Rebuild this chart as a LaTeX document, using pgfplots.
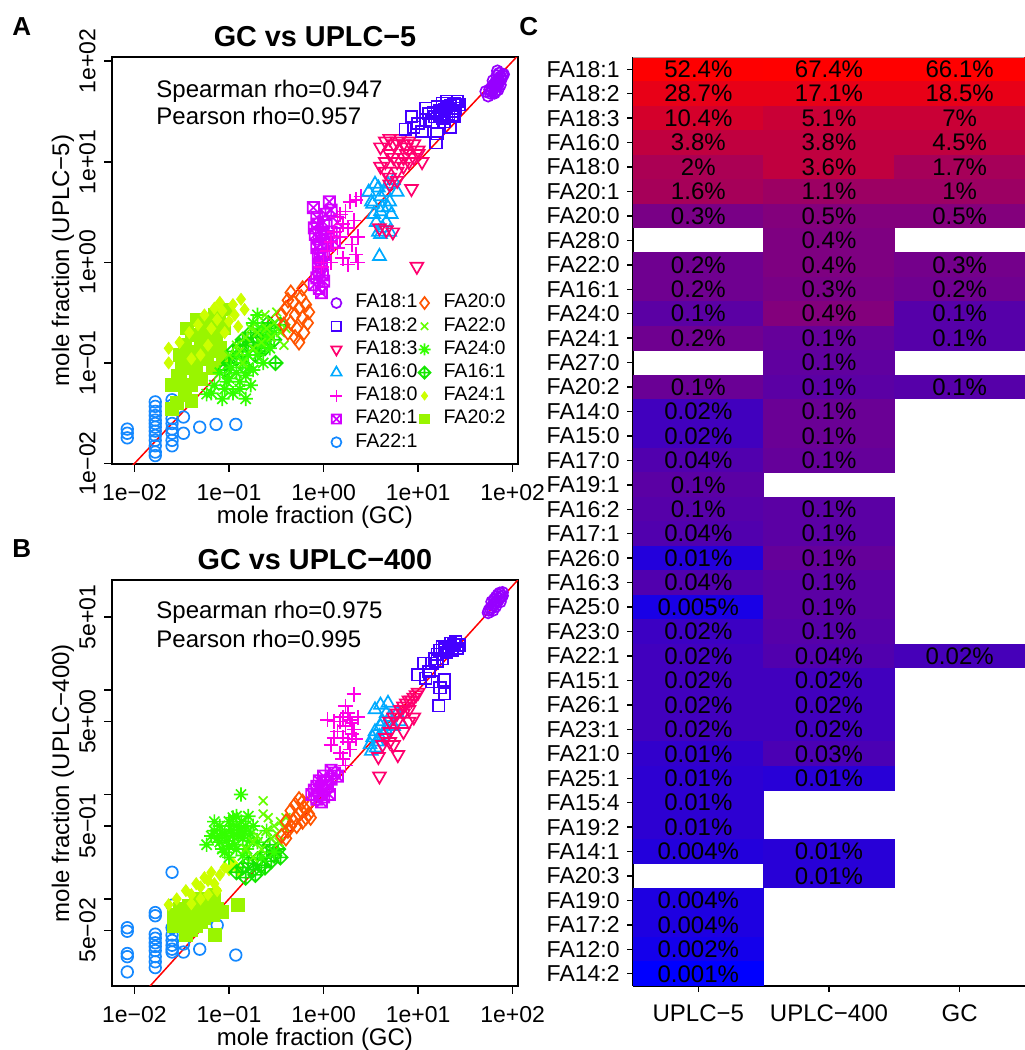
\documentclass[border=0pt]{standalone}
\usepackage{pgfplots}
\pgfplotsset{compat=1.18}
\usepackage{pgfplotstable}
\usepackage{fontspec}
\setmainfont{Liberation Sans}
\usetikzlibrary{plotmarks}

\definecolor{c181}{RGB}{150,0,255}
\definecolor{c182}{RGB}{68,0,255}
\definecolor{c183}{RGB}{255,0,110}
\definecolor{c160}{RGB}{0,170,255}
\definecolor{c180}{RGB}{255,0,230}
\definecolor{c201}{RGB}{210,0,255}
\definecolor{c221}{RGB}{20,136,255}
\definecolor{c200}{RGB}{255,85,0}
\definecolor{c220}{RGB}{102,255,0}
\definecolor{c240}{RGB}{51,255,0}
\definecolor{c161}{RGB}{20,230,0}
\definecolor{c241}{RGB}{204,255,0}
\definecolor{c202}{RGB}{153,245,0}

\newcommand{\ftick}{\fontsize{11.5}{13.8}\selectfont}
\newcommand{\flab}{\fontsize{12}{14.4}\selectfont}
\newcommand{\ftitle}{\fontsize{14.4}{17}\selectfont\bfseries}
\newcommand{\fleg}{\fontsize{9.8}{11.5}\selectfont}
\newcommand{\fcell}{\fontsize{12}{14.4}\selectfont}
\newcommand{\fpanel}{\fontsize{13}{15}\selectfont\bfseries}

% R pch 7, 8, 9
\pgfdeclareplotmark{sqx}{%
  \pgfpathrectangle{\pgfqpoint{-\pgfplotmarksize}{-\pgfplotmarksize}}{\pgfqpoint{2\pgfplotmarksize}{2\pgfplotmarksize}}%
  \pgfpathmoveto{\pgfqpoint{-\pgfplotmarksize}{-\pgfplotmarksize}}\pgfpathlineto{\pgfqpoint{\pgfplotmarksize}{\pgfplotmarksize}}%
  \pgfpathmoveto{\pgfqpoint{-\pgfplotmarksize}{\pgfplotmarksize}}\pgfpathlineto{\pgfqpoint{\pgfplotmarksize}{-\pgfplotmarksize}}%
  \pgfusepathqstroke}
\pgfdeclareplotmark{ast8}{%
  \pgfpathmoveto{\pgfqpoint{-\pgfplotmarksize}{0pt}}\pgfpathlineto{\pgfqpoint{\pgfplotmarksize}{0pt}}%
  \pgfpathmoveto{\pgfqpoint{0pt}{-\pgfplotmarksize}}\pgfpathlineto{\pgfqpoint{0pt}{\pgfplotmarksize}}%
  \pgfpathmoveto{\pgfqpoint{-.707\pgfplotmarksize}{-.707\pgfplotmarksize}}\pgfpathlineto{\pgfqpoint{.707\pgfplotmarksize}{.707\pgfplotmarksize}}%
  \pgfpathmoveto{\pgfqpoint{-.707\pgfplotmarksize}{.707\pgfplotmarksize}}\pgfpathlineto{\pgfqpoint{.707\pgfplotmarksize}{-.707\pgfplotmarksize}}%
  \pgfusepathqstroke}
\pgfdeclareplotmark{dplus}{%
  \pgfpathmoveto{\pgfqpoint{0pt}{\pgfplotmarksize}}\pgfpathlineto{\pgfqpoint{\pgfplotmarksize}{0pt}}%
  \pgfpathlineto{\pgfqpoint{0pt}{-\pgfplotmarksize}}\pgfpathlineto{\pgfqpoint{-\pgfplotmarksize}{0pt}}\pgfpathclose
  \pgfpathmoveto{\pgfqpoint{-\pgfplotmarksize}{0pt}}\pgfpathlineto{\pgfqpoint{\pgfplotmarksize}{0pt}}%
  \pgfpathmoveto{\pgfqpoint{0pt}{-\pgfplotmarksize}}\pgfpathlineto{\pgfqpoint{0pt}{\pgfplotmarksize}}%
  \pgfusepathqstroke}
% heatmap cell
\pgfdeclareplotmark{cell}{%
  \pgfpathrectangle{\pgfqpoint{-32.8pt}{-6.2pt}}{\pgfqpoint{65.6pt}{12.4pt}}\pgfusepathqfill}

\tikzset{
  s181/.style={only marks, mark=o, color=c181, mark size=2.8pt, line width=0.85pt},
  s182/.style={only marks, mark=square, color=c182, mark size=2.9pt, line width=0.85pt},
  s183/.style={only marks, mark=triangle, mark options={rotate=180}, color=c183, mark size=3.7pt, line width=0.85pt},
  s160/.style={only marks, mark=triangle, color=c160, mark size=3.7pt, line width=0.85pt},
  s180/.style={only marks, mark=+, color=c180, mark size=3.7pt, line width=0.85pt},
  s201/.style={only marks, mark=sqx, color=c201, mark size=2.8pt, line width=0.85pt},
  s221/.style={only marks, mark=o, color=c221, mark size=2.9pt, line width=0.85pt},
  s200/.style={only marks, mark=diamond, color=c200, mark size=3.6pt, line width=0.85pt},
  s220/.style={only marks, mark=x, color=c220, mark size=3.1pt, line width=0.85pt},
  s240/.style={only marks, mark=ast8, color=c240, mark size=3.6pt, line width=0.85pt},
  s161/.style={only marks, mark=dplus, color=c161, mark size=3.6pt, line width=0.85pt},
  s241/.style={only marks, mark=diamond*, color=c241, mark size=3pt},
  s202/.style={only marks, mark=square*, color=c202, mark size=3.2pt},
}

% rows: FA18:1 at y=37 ... FA14:2 at y=0; x: 0 UPLC-5, 1 UPLC-400, 2 GC
% v = printed percent, c = colour value read from the cell shade
\pgfplotstableread{
x y v c
0 37 52.4 60
1 37 67.4 67.4
2 37 66.1 66.1
0 36 28.7 23
1 36 17.1 23
2 36 18.5 23
0 35 10.4 9.5
1 35 5.1 6.1
2 35 7 6.1
0 34 3.8 4.0
1 34 3.8 4.0
2 34 4.5 4.0
0 33 2 1.66
1 33 3.6 4.0
2 33 1.7 1.33
0 32 1.6 1.33
1 32 1.1 0.86
2 32 1 0.86
0 31 0.3 0.19
1 31 0.5 0.29
2 31 0.5 0.29
1 30 0.4 0.23
0 29 0.2 0.12
1 29 0.4 0.23
2 29 0.3 0.15
0 28 0.2 0.12
1 28 0.3 0.19
2 28 0.2 0.12
0 27 0.1 0.051
1 27 0.4 0.29
2 27 0.1 0.041
0 26 0.2 0.12
1 26 0.1 0.078
2 26 0.1 0.041
1 25 0.1 0.063
0 24 0.1 0.098
1 24 0.1 0.051
2 24 0.1 0.041
0 23 0.02 0.017
1 23 0.1 0.098
0 22 0.02 0.017
1 22 0.1 0.098
0 21 0.04 0.033
1 21 0.1 0.078
0 20 0.1 0.051
0 19 0.1 0.041
1 19 0.1 0.051
0 18 0.04 0.033
1 18 0.1 0.051
0 17 0.01 0.0046
1 17 0.1 0.078
0 16 0.04 0.033
1 16 0.1 0.051
0 15 0.005 0.003
1 15 0.1 0.051
0 14 0.02 0.0137
1 14 0.1 0.041
0 13 0.02 0.017
1 13 0.04 0.033
2 13 0.02 0.021
0 12 0.02 0.017
1 12 0.02 0.017
0 11 0.02 0.017
1 11 0.02 0.017
0 10 0.02 0.017
1 10 0.02 0.017
0 9 0.01 0.0089
1 9 0.03 0.026
0 8 0.01 0.0071
1 8 0.01 0.0057
0 7 0.01 0.0071
0 6 0.01 0.0071
0 5 0.004 0.0046
1 5 0.01 0.0057
1 4 0.01 0.0057
0 3 0.004 0.0037
0 2 0.004 0.0037
0 1 0.002 0.0024
0 0 0.001 0.001
}\heat

\begin{document}
\begin{tikzpicture}
\useasboundingbox (0pt,0pt) rectangle (512pt,-525pt);

%%% Panel A
\begin{axis}[at={(56pt,-28.5pt)}, anchor=north west,
  scale only axis, width=203pt, height=203.5pt,
  xmode=log, ymode=log,
  xmin=0.00579, xmax=113.8, ymin=0.00989, ymax=110,
  axis line style={line width=0.75pt},
  tick style={black, line width=0.75pt},
  major tick length=3.8pt,
  tick align=outside, tick pos=left,
  xminorticks=false, yminorticks=false,
  xtick={0.01,0.1,1,10,100},
  xticklabels={1e−02,1e−01,1e+00,1e+01,1e+02},
  xticklabel style={font=\ftick, anchor=base, inner sep=0pt},
  xticklabel shift=14.5pt,
  ytick={0.01,0.1,1,10,100},
  yticklabels={1e−02,1e−01,1e+00,1e+01,1e+02},
  yticklabel style={font=\ftick, rotate=90, anchor=base, inner sep=0pt},
  yticklabel shift=4.5pt,
  legend columns=2, legend cell align=left,
  legend image code/.code={\draw plot coordinates {(0pt,0pt)};},
  legend style={draw=none, fill=none, at={(0.537,0.425)}, anchor=north west,
    font=\fleg, inner sep=0pt, row sep=0pt, column sep=0pt,
    nodes={inner xsep=3pt, inner ysep=1.4pt, text height=6.8pt, text depth=2pt},
    /tikz/every odd column/.append style={column sep=3.5pt},
    /tikz/every even column/.append style={column sep=-2.5pt}},
]
\addplot[s221, forget plot] coordinates {(0.0084,0.022)(0.0084,0.020)(0.0084,0.018)
 (0.0166,0.041)(0.0166,0.037)(0.0166,0.033)(0.0166,0.030)(0.0166,0.027)(0.0166,0.025)(0.0166,0.023)(0.0166,0.021)(0.0166,0.019)(0.0166,0.017)(0.0166,0.015)(0.0166,0.013)(0.0166,0.012)
 (0.025,0.043)(0.025,0.038)(0.025,0.028)(0.025,0.025)(0.025,0.022)(0.025,0.020)(0.025,0.017)(0.025,0.015)
 (0.033,0.029)(0.033,0.020)(0.049,0.023)(0.073,0.0245)(0.118,0.0245)};
\addplot[s202, forget plot] coordinates {(0.025,0.035)(0.025,0.06)(0.029,0.075)(0.03,0.12)(0.034,0.15)(0.036,0.1)(0.04,0.19)(0.042,0.13)(0.045,0.08)(0.05,0.16)(0.05,0.07)(0.055,0.2)(0.058,0.11)(0.06,0.26)(0.063,0.13)(0.07,0.3)(0.072,0.17)(0.08,0.14)(0.088,0.22)(0.095,0.34)(0.04,0.06)(0.034,0.048)(0.04,0.042)(0.028,0.04)(0.068,0.09)(0.045,0.1)(0.032,0.09)
 (0.036,0.22)(0.046,0.27)(0.052,0.11)(0.066,0.2)(0.078,0.25)(0.03,0.065)(0.057,0.15)(0.085,0.11)};
\addplot[s241, forget plot] coordinates {(0.023,0.14)(0.023,0.10)(0.134,0.43)(0.146,0.34)(0.03,0.16)(0.038,0.2)(0.047,0.24)(0.055,0.3)(0.065,0.22)(0.075,0.27)(0.085,0.33)(0.1,0.26)(0.115,0.3)(0.06,0.15)(0.05,0.12)(0.11,0.38)(0.04,0.11)(0.09,0.2)(0.07,0.35)(0.125,0.23)(0.08,0.4)};
\addplot[s161, forget plot] coordinates {(0.1,0.1)(0.12,0.11)(0.14,0.13)(0.16,0.15)(0.18,0.16)(0.2,0.18)(0.22,0.2)(0.25,0.19)(0.28,0.22)(0.3,0.17)(0.31,0.1)(0.15,0.09)(0.13,0.15)(0.19,0.12)(0.24,0.14)(0.11,0.13)
 (0.09,0.085)(0.17,0.2)(0.21,0.14)(0.26,0.25)(0.14,0.17)(0.35,0.24)};
\addplot[s240, forget plot] coordinates {(0.058,0.049)(0.085,0.044)(0.15,0.044)(0.17,0.06)(0.07,0.06)(0.1,0.07)(0.12,0.08)(0.14,0.1)(0.16,0.09)(0.2,0.12)(0.22,0.15)(0.25,0.18)(0.18,0.25)(0.2,0.3)(0.3,0.2)(0.12,0.12)(0.09,0.055)(0.13,0.065)(0.11,0.05)(0.23,0.1)(0.27,0.14)(0.08,0.08)
 (0.095,0.065)(0.105,0.09)(0.13,0.055)(0.15,0.075)(0.18,0.085)(0.16,0.12)(0.22,0.22)(0.065,0.05)};
\addplot[s220, forget plot] coordinates {(0.1,0.12)(0.12,0.15)(0.15,0.18)(0.18,0.14)(0.2,0.2)(0.22,0.16)(0.25,0.22)(0.28,0.18)(0.3,0.25)(0.35,0.2)(0.14,0.1)(0.17,0.22)(0.24,0.3)(0.32,0.32)(0.4,0.22)(0.13,0.13)(0.38,0.15)};
\addplot[s200, forget plot] coordinates {(0.36,0.3)(0.4,0.35)(0.42,0.2)(0.45,0.25)(0.48,0.4)(0.5,0.3)(0.52,0.22)(0.55,0.35)(0.58,0.45)(0.6,0.28)(0.62,0.2)(0.65,0.38)(0.68,0.25)(0.7,0.32)(0.5,0.18)(0.55,0.16)(0.45,0.5)(0.6,0.55)(0.42,0.42)(0.38,0.24)};
\addplot[s201, forget plot] coordinates {(0.8,0.6)(0.85,0.7)(0.9,0.8)(0.9,0.55)(0.95,1)(1,1.2)(0.85,1.4)(0.9,1.7)(0.95,2)(1,2.5)(1.05,3)(0.8,2.2)(0.78,3.5)(0.85,2.8)(1.1,1.5)(1.2,2)(1.15,4)(1.3,1.6)(0.88,0.9)(0.92,1.1)(1,0.65)(0.95,0.5)(1.2,3.3)(1.4,2.5)
 (0.88,1.2)(0.93,1.5)(0.97,0.75)(0.86,2.4)(1.05,1.8)(0.82,1.9)};
\addplot[s180, forget plot] coordinates {(1,1)(1.1,1.3)(1.2,1.6)(1.3,2)(1.5,1.8)(1.6,2.4)(1.8,2.2)(2,1.5)(2.2,1.2)(2.3,1)(2.5,4.5)(2.2,4.2)(1.9,4)(1.5,3)(1.4,2.8)(1.7,3.2)(1.2,1)(1.4,1.4)(2.3,1.8)(2.1,2.6)(1.6,1.1)(0.95,0.9)(1.8,0.95)};
\addplot[s160, forget plot] coordinates {(3,5)(3.2,4)(3.5,6)(3.8,5.5)(4,4.5)(4.2,3.5)(4.5,5)(4.8,6)(5,4)(5.2,3)(5.5,6.5)(3.4,3)(3.6,2.5)(3.8,2)(4,1.9)(4.2,2.2)(4.6,2.5)(4.8,3.5)(3.3,3.8)(4,3.2)(3.9,1.15)(6,5)(5,2)};
\addplot[s183, forget plot] coordinates {(4,14)(4.5,16)(5,17)(5.5,15)(6,16)(6.5,17)(7,15)(7.5,14)(8,16)(9,15)(5,12)(5.5,11)(6,10)(7,11)(4,9)(4.5,8)(5,7)(6,8)(7,9)(8,10)(9,11)(10,12)(11,10)(8.5,5.4)(5,6)(6,6.5)(4.5,10)(3.9,2.2)(5.4,2.0)(4.6,2.1)(9.7,0.91)(10,13)(7.5,12)};
\addplot[s182, forget plot] coordinates {(14,25)(15,28)(16,30)(17,32)(18,27)(19,33)(20,35)(21,30)(22,36)(23,32)(24,38)(25,34)(26,40)(18,38)(20,40)(16,35)(13,30)(12,26)(10,24)(9,22)(8.5,28)(7.3,21)(11,20)(15.8,19)(15.5,15.5)(22,22)(24,28)(27,37)(19,25)(12,34)
 (17,29)(19,30)(21,34)(23,29)(25,37)(20,28)(14.5,31)};
\addplot[s181, forget plot] coordinates {(55,45)(58,48)(60,50)(62,52)(65,55)(68,57)(70,60)(72,62)(75,65)(60,55)(63,58)(66,62)(70,66)(74,70)(68,72)(72,76)(76,68)(78,72)(57,52)(64,48)(70,52)(66,50)(74,58)(69,80)(62,64)(80,74)(52,50)(67,60)};
\addplot[red, line width=0.75pt, forget plot] coordinates {(0.001,0.001)(1000,1000)};
\addlegendimage{s181, mark size=2.5pt}\addlegendentry{FA18:1}
\addlegendimage{s200, mark size=3pt}\addlegendentry{FA20:0}
\addlegendimage{s182, mark size=2.4pt}\addlegendentry{FA18:2}
\addlegendimage{s220, mark size=2.6pt}\addlegendentry{FA22:0}
\addlegendimage{s183, mark size=3pt}\addlegendentry{FA18:3}
\addlegendimage{s240, mark size=3pt}\addlegendentry{FA24:0}
\addlegendimage{s160, mark size=3pt}\addlegendentry{FA16:0}
\addlegendimage{s161, mark size=3pt}\addlegendentry{FA16:1}
\addlegendimage{s180, mark size=3pt}\addlegendentry{FA18:0}
\addlegendimage{s241, mark size=2.1pt}\addlegendentry{FA24:1}
\addlegendimage{s201, mark size=2.3pt}\addlegendentry{FA20:1}
\addlegendimage{s202, mark size=2.4pt}\addlegendentry{FA20:2}
\addlegendimage{s221, mark size=2.5pt}\addlegendentry{FA22:1}
\end{axis}

%%% Panel B
\begin{axis}[at={(56pt,-290pt)}, anchor=north west,
  scale only axis, width=203pt, height=203pt,
  xmode=log, ymode=log,
  xmin=0.00579, xmax=113.8, ymin=0.01466, ymax=113.2,
  axis line style={line width=0.75pt},
  tick style={black, line width=0.75pt},
  major tick length=3.8pt,
  tick align=outside, tick pos=left,
  xminorticks=false, yminorticks=false,
  xtick={0.01,0.1,1,10,100},
  xticklabels={1e−02,1e−01,1e+00,1e+01,1e+02},
  xticklabel style={font=\ftick, anchor=base, inner sep=0pt},
  xticklabel shift=14.5pt,
  ytick={0.05,0.1,0.5,1,5,10,50},
  yticklabels={5e−02,,5e−01,,5e+00,,5e+01},
  yticklabel style={font=\ftick, rotate=90, anchor=base, inner sep=0pt},
  yticklabel shift=4.5pt,
]
\addplot[s221] coordinates {(0.0084,0.053)(0.0084,0.049)(0.0084,0.030)(0.0084,0.028)(0.0084,0.020)
 (0.0166,0.074)(0.0166,0.069)(0.0166,0.046)(0.0166,0.042)(0.0166,0.038)(0.0166,0.035)(0.0166,0.032)(0.0166,0.028)(0.0166,0.025)(0.0166,0.022)
 (0.025,0.18)(0.025,0.087)(0.025,0.053)(0.025,0.045)(0.025,0.04)(0.025,0.036)(0.025,0.033)(0.025,0.031)
 (0.033,0.037)(0.033,0.031)(0.049,0.033)(0.075,0.056)(0.118,0.029)};
\addplot[s202] coordinates {(0.026,0.055)(0.026,0.07)(0.03,0.08)(0.035,0.06)(0.04,0.07)(0.045,0.09)(0.05,0.06)(0.05,0.08)(0.055,0.1)(0.06,0.07)(0.065,0.09)(0.07,0.11)(0.075,0.08)(0.085,0.075)(0.071,0.045)(0.124,0.087)(0.04,0.05)(0.035,0.045)(0.045,0.055)(0.06,0.1)
 (0.032,0.065)(0.038,0.085)(0.055,0.065)(0.048,0.1)(0.068,0.07)};
\addplot[s241] coordinates {(0.023,0.088)(0.028,0.1)(0.035,0.12)(0.04,0.11)(0.045,0.14)(0.05,0.13)(0.055,0.16)(0.06,0.15)(0.065,0.18)(0.07,0.14)(0.08,0.17)(0.09,0.2)(0.1,0.19)(0.11,0.22)(0.12,0.2)(0.13,0.18)(0.05,0.1)(0.06,0.11)(0.04,0.09)(0.075,0.12)};
\addplot[s161] coordinates {(0.12,0.18)(0.14,0.2)(0.16,0.22)(0.18,0.19)(0.2,0.24)(0.22,0.21)(0.25,0.28)(0.28,0.23)(0.3,0.26)(0.33,0.3)(0.35,0.25)(0.15,0.16)(0.19,0.17)(0.24,0.2)(0.27,0.33)};
\addplot[s240] coordinates {(0.134,1.0)(0.058,0.33)(0.07,0.45)(0.08,0.5)(0.09,0.42)(0.1,0.55)(0.11,0.6)(0.12,0.5)(0.13,0.45)(0.14,0.38)(0.15,0.5)(0.16,0.62)(0.17,0.42)(0.08,0.35)(0.09,0.28)(0.1,0.25)(0.12,0.3)(0.14,0.26)(0.07,0.55)(0.11,0.4)(0.2,0.35)(0.25,0.45)(0.3,0.28)(0.22,0.25)
 (0.075,0.38)(0.085,0.3)(0.095,0.36)(0.105,0.46)(0.115,0.33)(0.125,0.4)(0.135,0.55)(0.145,0.44)(0.155,0.3)(0.165,0.36)(0.085,0.42)(0.1,0.32)(0.12,0.62)(0.18,0.5)(0.065,0.4)};
\addplot[s220] coordinates {(0.23,0.87)(0.23,0.65)(0.15,0.3)(0.18,0.35)(0.2,0.4)(0.22,0.3)(0.25,0.45)(0.28,0.38)(0.3,0.5)(0.32,0.42)(0.35,0.55)(0.38,0.48)(0.4,0.6)(0.26,0.6)(0.18,0.25)(0.34,0.35)};
\addplot[s200] coordinates {(0.36,0.4)(0.4,0.38)(0.42,0.45)(0.45,0.5)(0.48,0.55)(0.5,0.6)(0.52,0.5)(0.55,0.65)(0.58,0.7)(0.6,0.55)(0.62,0.75)(0.65,0.6)(0.68,0.8)(0.7,0.65)(0.5,0.8)(0.55,0.9)(0.6,0.85)(0.45,0.7)(0.4,0.55)(0.73,0.6)};
\addplot[s201] coordinates {(0.75,1)(0.8,1.1)(0.85,0.9)(0.9,1)(0.95,1.2)(1,1.1)(1.05,1.3)(1.1,1.2)(1.2,1.4)(1.3,1.6)(1.4,1.5)(0.85,1.2)(0.95,0.85)(1,0.95)(1.15,1)(0.9,1.35)(1.2,1.7)(1,1.5)};
\addplot[s180] coordinates {(2.1,9.1)(1.7,7)(1.8,6)(1.5,5)(1.6,5.5)(1.7,4.5)(1.9,5.2)(2,4.8)(2.1,4.2)(1.4,4)(1.6,3.5)(1.8,3.2)(2,3.8)(1.3,5)(1.1,5.2)(1.2,3)(1.3,3.5)(1.5,2.5)(1.6,2.2)(1.7,1.9)(2.3,5.5)(2.2,3.4)(1.9,2.7)};
\addplot[s160] coordinates {(3.1,3)(3.3,3.5)(3.5,4)(3.7,3.2)(4,4.5)(4.2,5)(4.4,3.8)(4.6,6)(4.8,7.5)(5,5.5)(3.5,6.5)(4,7.2)(3.2,2.6)(3.6,2.8)(5.5,4.5)(6,6)(6.4,5)(4.5,4.2)(3.9,3.6)};
\addplot[s183] coordinates {(5,5)(5.5,5.5)(6,6)(6.5,6.5)(7,7)(7.5,7.5)(8,8)(8.5,8)(9,8.5)(9.5,9)(10,9.5)(6,5)(7,6)(8,6.5)(5,4)(4.5,3.5)(6.1,2.4)(3.9,1.5)(3.8,2.3)(5.5,3)(7,4)(8,5)(9,5.5)(4.2,3)(5,3.2)};
\addplot[s182] coordinates {(14,18)(15,20)(16,22)(17,24)(18,20)(19,25)(20,23)(21,26)(22,28)(23,24)(24,27)(25,29)(26,25)(18,26)(16,19)(11.5,18)(10,14)(12,13)(14,12)(16.5,7.1)(19,12.5)(19,9.2)(17,10.5)(13,15)(27,27)};
\addplot[s181] coordinates {(55,55)(58,60)(60,62)(62,65)(65,68)(68,70)(70,72)(72,75)(75,78)(78,80)(60,70)(64,74)(67,78)(70,82)(73,85)(56,58)(62,58)(66,63)(74,70)(78,86)};
\addplot[red, line width=0.75pt] coordinates {(0.001,0.001)(1000,1000)};
\end{axis}

%%% Panel C
\begin{axis}[at={(316.5pt,-28.5pt)}, anchor=north west, scale only axis,
  width=196pt, height=464.5pt,
  xmin=-0.5, xmax=2.5, ymin=-0.5, ymax=37.5, enlargelimits=false,
  axis x line*=bottom, axis y line*=left,
  axis line style={black, line width=0.9pt},
  tick align=outside, major tick length=3pt,
  tick style={black, line width=0.7pt},
  xtick={0,1,2}, xticklabels={UPLC−5,UPLC−400,GC},
  xticklabel style={font=\fcell, anchor=base, inner sep=0pt},
  xticklabel shift=14.6pt,
  ytick={0,...,37},
  yticklabels={FA14:2,FA12:0,FA17:2,FA19:0,FA20:3,FA14:1,FA19:2,FA15:4,FA25:1,FA21:0,FA23:1,FA26:1,FA15:1,FA22:1,FA23:0,FA25:0,FA16:3,FA26:0,FA17:1,FA16:2,FA19:1,FA17:0,FA15:0,FA14:0,FA20:2,FA27:0,FA24:1,FA24:0,FA16:1,FA22:0,FA28:0,FA20:0,FA20:1,FA18:0,FA16:0,FA18:3,FA18:2,FA18:1},
  yticklabel style={font=\ftick, anchor=east, inner sep=0pt},
  yticklabel shift=3.5pt,
  colormap={br}{rgb255=(0,0,255) rgb255=(255,0,0)},
  point meta min=-6.908, point meta max=4.21,
]
\addplot[scatter, only marks, mark=cell, scatter/use mapped color={fill=mapped color},
  point meta={ln(\thisrow{c})}] table[x=x, y=y] {\heat};
\addplot[only marks, mark=none, point meta=explicit symbolic,
  nodes near coords={\pgfplotspointmeta\%},
  every node near coord/.append style={font=\fcell, anchor=center, inner sep=0pt, text=black}]
  table[x=x, y=y, meta=v] {\heat};
\end{axis}
\draw[black!35, line width=0.5pt] (316.5pt,-28.5pt) -- (512pt,-28.5pt);

%%% texts
\node[anchor=base west, inner sep=0pt, font=\fpanel] at (6pt,-17.5pt) {A};
\node[anchor=base west, inner sep=0pt, font=\fpanel] at (6pt,-278.5pt) {B};
\node[anchor=base west, inner sep=0pt, font=\fpanel] at (259.5pt,-17.5pt) {C};
\node[anchor=base, inner sep=0pt, font=\ftitle] at (157.5pt,-23pt) {GC vs UPLC−5};
\node[anchor=base, inner sep=0pt, font=\ftitle] at (157.5pt,-284.5pt) {GC vs UPLC−400};
\node[anchor=base west, inner sep=0pt, font=\flab] at (78pt,-48.5pt) {Spearman rho=0.947};
\node[anchor=base west, inner sep=0pt, font=\flab] at (78pt,-62.25pt) {Pearson rho=0.957};
\node[anchor=base west, inner sep=0pt, font=\flab] at (78pt,-309pt) {Spearman rho=0.975};
\node[anchor=base west, inner sep=0pt, font=\flab] at (78pt,-323.5pt) {Pearson rho=0.995};
\node[anchor=base, inner sep=0pt, font=\flab] at (157.5pt,-261.5pt) {mole fraction (GC)};
\node[anchor=base, inner sep=0pt, font=\flab] at (157.5pt,-522.5pt) {mole fraction (GC)};
\node[rotate=90, inner sep=0pt, font=\flab] at (31.5pt,-130.25pt) {mole fraction (UPLC−5)};
\node[rotate=90, inner sep=0pt, font=\flab] at (31.5pt,-391.5pt) {mole fraction (UPLC−400)};
\end{tikzpicture}
\end{document}
